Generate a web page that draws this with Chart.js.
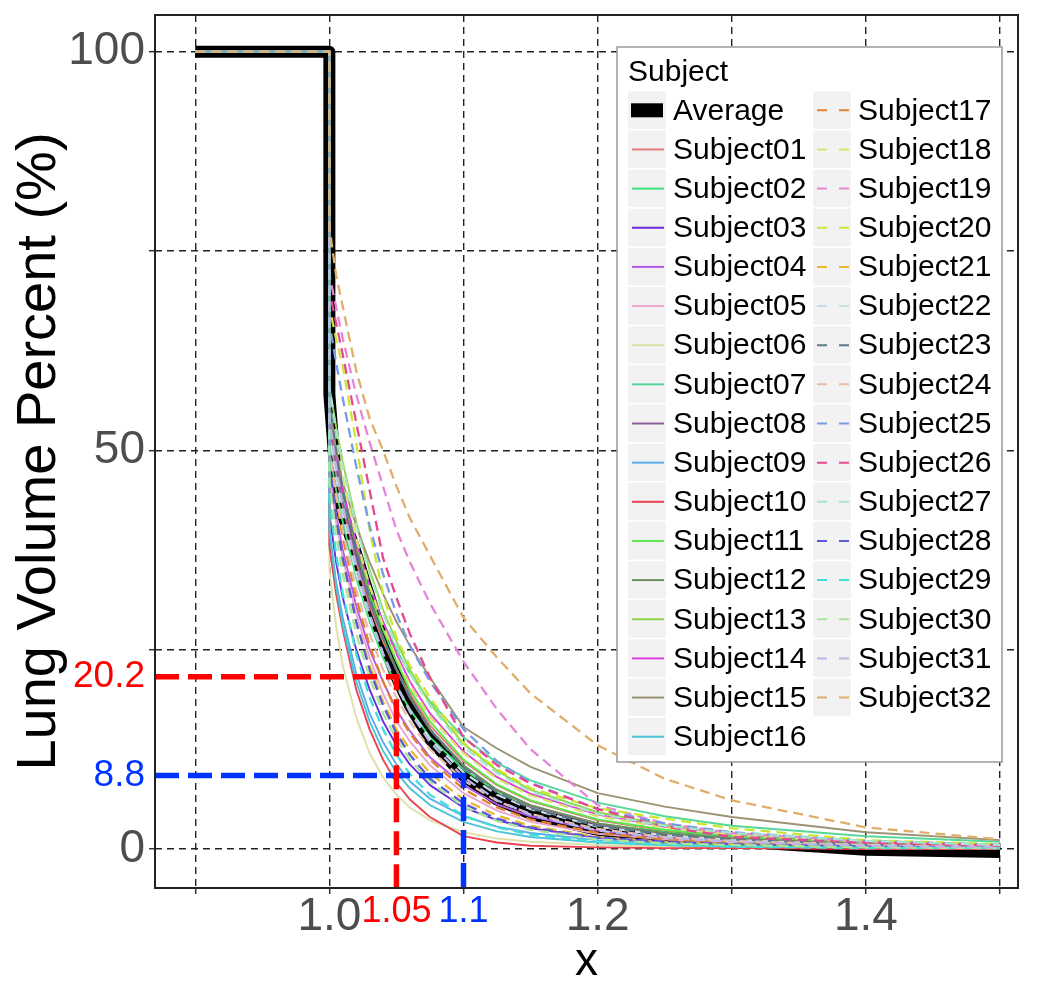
<!DOCTYPE html>
<html lang="en">
<head>
<meta charset="UTF-8">
<title>Lung Volume Percent</title>
<script src="https://cdn.jsdelivr.net/npm/chart.js@4"></script>
<style>
  html, body { margin: 0; padding: 0; background: #fff; }
  #wrap { width: 1050px; height: 986px; }
</style>
</head>
<body>
<div id="wrap"><canvas id="lungChart" width="1050" height="986"></canvas></div>
<script>
// sample positions after the drop at x = 1
const xValues = [1.0, 1.005, 1.01, 1.02, 1.03, 1.04, 1.05, 1.06, 1.075, 1.1, 1.125, 1.15, 1.2, 1.25, 1.3, 1.4, 1.5];
// plateau before the drop
const stepX = [0.9, 1.0];
const stepY = [100, 100];

const average = [57, 46, 42, 37, 31.5, 26, 21.6, 18, 13.8, 9.2, 6.2, 4.4, 2.4, 1.5, 1.0, -0.1, -0.4];

const s01 = [52, 47, 43, 36, 30.5, 26, 22.5, 19.5, 15.5, 11, 8, 6, 3.6, 2.3, 1.6, 0.8, 0.4];
const s02 = [50, 45, 41, 34, 28.5, 24, 20.5, 17.5, 14, 10, 7.2, 5.4, 3.2, 2.1, 1.4, 0.7, 0.4];
const s03 = [42, 36, 31.5, 25, 20, 16, 13, 10.6, 8, 5.2, 3.6, 2.6, 1.4, 0.9, 0.6, 0.3, 0.2];
const s04 = [48, 42, 37.5, 30.5, 25, 21, 17.5, 14.8, 11.5, 8, 5.6, 4.1, 2.3, 1.4, 0.9, 0.4, 0.2];
const s05 = [47, 41, 36.5, 29.5, 24, 19.5, 16, 13.5, 10.5, 7, 4.8, 3.4, 1.9, 1.2, 0.8, 0.4, 0.2];
const s06 = [35, 28, 23, 16.5, 12, 9, 6.8, 5.2, 3.6, 2.1, 1.3, 0.9, 0.5, 0.3, 0.2, 0.1, 0.1];
const s07 = [52, 47.5, 44, 38, 33, 28.5, 25, 22, 18.5, 14, 10.8, 8.6, 5.8, 4.1, 2.9, 1.6, 0.9];
const s08 = [54, 48, 43.5, 36.5, 31, 26.5, 22.5, 19, 15, 10.4, 7.4, 5.4, 3.1, 1.9, 1.3, 0.6, 0.3];
const s09 = [40, 33.5, 29, 22, 17, 13.4, 10.6, 8.5, 6.3, 4.1, 2.8, 2.0, 1.1, 0.7, 0.5, 0.3, 0.2];
const s10 = [38, 32, 27.5, 20, 15, 11.2, 8.3, 6.2, 4.0, 1.6, 0.8, 0.4, 0.2, 0.1, 0.1, 0.0, 0.0];
const s11 = [55, 49.5, 45, 38, 32, 27.5, 23.5, 20, 16, 11.2, 8.1, 6.1, 3.7, 2.4, 1.6, 0.8, 0.4];
const s12 = [56, 50, 45, 37.5, 31.5, 26.5, 22.5, 19, 15, 10.5, 7.4, 5.5, 3.2, 2.0, 1.3, 0.6, 0.3];
const s13 = [58, 53, 48.5, 41, 35, 30, 26, 22.5, 18.2, 13.2, 9.8, 7.4, 4.6, 3.0, 2.0, 1.0, 0.5];
const s14 = [54, 49, 45, 38.5, 33, 28.5, 24.5, 21, 17, 12.2, 9, 6.9, 4.3, 2.8, 1.9, 0.9, 0.5];
const s15 = [55, 50, 46, 40.5, 36, 32, 28.5, 25.5, 21.5, 15.3, 12.6, 10.3, 7.0, 5.3, 4.0, 2.1, 1.1];
const s16 = [40, 33, 28, 21, 16, 12.3, 9.6, 7.6, 5.5, 3.4, 2.2, 1.5, 0.8, 0.5, 0.3, 0.2, 0.1];
const s17 = [50, 44, 39, 31.5, 25.5, 21, 17.3, 14.5, 11.2, 7.5, 5.2, 3.7, 2.0, 1.2, 0.8, 0.4, 0.2];
const s18 = [56, 51, 46.5, 39, 33, 28, 24, 20.6, 16.6, 12, 8.8, 6.7, 4.1, 2.7, 1.8, 0.9, 0.5];
const s19 = [72, 68, 64, 57, 51, 45.5, 40, 36, 30.8, 23.5, 17.5, 12.5, 5.5, 3.2, 2.0, 1.0, 0.5];
const s20 = [68, 64, 60.5, 51, 40, 32, 26.5, 23, 19, 13.3, 10, 7.6, 5.1, 3.8, 2.6, 1.1, 0.6];
const s21 = [47, 41, 36, 28.5, 23, 18.5, 15, 12.5, 9.5, 6.2, 4.2, 2.9, 1.5, 0.9, 0.6, 0.3, 0.1];
const s22 = [52, 46.5, 42, 34.5, 29, 24.5, 20.5, 17.4, 13.8, 9.6, 6.8, 5, 2.8, 1.7, 1.1, 0.5, 0.3];
const s23 = [56, 50, 45, 37.5, 31.5, 26.5, 22.5, 19, 15, 10.2, 7.1, 5.1, 2.9, 1.8, 1.2, 0.5, 0.3];
const s24 = [50, 44.5, 40, 32.5, 27, 22.5, 19, 16, 12.5, 8.6, 6.0, 4.4, 2.5, 1.5, 1.0, 0.5, 0.2];
const s25 = [66, 61, 56.5, 48, 40.5, 34.5, 29.5, 25.5, 21, 15, 11, 8.3, 5, 3.2, 2.1, 1.0, 0.5];
const s26 = [70, 66, 62, 53.5, 45, 36.5, 31.5, 27, 21.5, 14, 10.5, 8.2, 5, 2.8, 1.5, 0.8, 0.4];
const s27 = [58, 52.5, 48, 40.5, 34.5, 29.5, 25.5, 22, 18, 12.8, 9.5, 7.2, 4.4, 2.9, 2.0, 1.0, 0.5];
const s28 = [48, 41.5, 36.5, 28.5, 22.5, 18, 14.5, 11.8, 8.8, 5.7, 3.8, 2.7, 1.4, 0.9, 0.6, 0.3, 0.1];
const s29 = [44, 37, 32, 24.5, 19, 15, 11.8, 9.4, 6.8, 4.2, 2.7, 1.8, 0.9, 0.5, 0.3, 0.1, 0.1];
const s30 = [46, 39.5, 34.5, 27, 21.5, 17, 13.8, 11.2, 8.4, 5.3, 3.5, 2.4, 1.2, 0.7, 0.5, 0.2, 0.1];
const s31 = [54, 48, 43, 35.5, 29.5, 24.5, 20.5, 17.2, 13.4, 9, 6.1, 4.3, 2.3, 1.4, 0.9, 0.4, 0.2];
const s32 = [78, 72, 68, 60, 54, 50, 45.5, 41.5, 36.8, 29, 24, 19.5, 13, 8.8, 6.1, 2.7, 1.2];

const subjectSeries = [s01, s02, s03, s04, s05, s06, s07, s08, s09, s10, s11, s12, s13, s14, s15, s16,
                       s17, s18, s19, s20, s21, s22, s23, s24, s25, s26, s27, s28, s29, s30, s31, s32];
const subjectNames = subjectSeries.map((_, i) => 'Subject' + String(i + 1).padStart(2, '0'));
const subjectColors = [
  '#E07A7C', '#3FE07A', '#6A2BE0', '#B35AE8', '#EAA6CF', '#DDE0A8', '#55D89A', '#8E5E9C',
  '#5AAEE8', '#E8434E', '#5BE84A', '#6F8F5A', '#8DD64A', '#DD3FDB', '#9B9373', '#4CC3D6',
  '#E0822F', '#D9E36A', '#E685D8', '#C9E830', '#E8B830', '#C9DDE6', '#5C7A8A', '#E8BCA8',
  '#7A9AE6', '#E64790', '#A8E6CC', '#5A5AD6', '#3FE0DA', '#A8E69A', '#B8B8E6', '#E0AE6A'
];

// marker lines (red at x = 1.05, blue at x = 1.1)
const refX = [1.05, 1.1];
const refXLabels = ['1.05', '1.1'];
const refY = [21.6, 9.2];
const refYLabels = ['20.2', '8.8'];
const refColors = ['#FF0000', '#0033FF'];

// axes
const xMin = 0.87, xMax = 1.5134;
const yMin = -4.9, yMax = 104.6;
const xTickValues = [0.9, 1.0, 1.1, 1.2, 1.3, 1.4, 1.5];
const xTickLabels = ['', '1.0', '1.1', '1.2', '', '1.4', ''];
const yTickValues = [0, 25, 50, 75, 100];
const yTickLabels = ['0', '', '50', '', '100'];

const FONT = '"Liberation Sans", Arial, Helvetica, sans-serif';
const GREY = '#4D4D4D';
const NONE = 'rgba(0,0,0,0)';

function toPoints(vals) {
  const head = stepX.map((x, i) => ({ x: x, y: stepY[i] }));
  return head.concat(xValues.map((x, i) => ({ x: x, y: vals[i] })));
}

const datasets = [];
datasets.push({
  label: 'Average', data: toPoints(average),
  borderColor: '#000000', borderWidth: 12, borderDash: [], order: 100
});
subjectSeries.forEach((vals, i) => {
  const dashed = i >= 16;
  datasets.push({
    label: subjectNames[i], data: toPoints(vals),
    borderColor: subjectColors[i],
    borderWidth: dashed ? 2.3 : 1.9,
    borderDash: dashed ? [10, 6] : [],
    order: 60 - i
  });
});
refX.forEach((x, i) => {
  datasets.push({
    label: 'ref' + i,
    data: [{ x: xMin, y: refY[i] }, { x: x, y: refY[i] }, { x: x, y: yMin }],
    borderColor: refColors[i], borderWidth: 5.5, borderDash: [24, 9], order: -1,
    borderJoinStyle: 'miter'
  });
});

const allXTicks = Array.from(new Set(xTickValues.concat(refX))).sort((a, b) => a - b);
const allYTicks = Array.from(new Set(yTickValues.concat(refY))).sort((a, b) => a - b);

function xInfo(c) {
  const v = c && c.tick ? c.tick.value : null;
  const r = refX.indexOf(v);
  if (r >= 0) return { label: refXLabels[r], color: refColors[r], size: 36, grid: xTickValues.includes(v) };
  const k = xTickValues.indexOf(v);
  return { label: k >= 0 ? xTickLabels[k] : '', color: GREY, size: 46, grid: true };
}
function yInfo(c) {
  const v = c && c.tick ? c.tick.value : null;
  const r = refY.indexOf(v);
  if (r >= 0) return { label: refYLabels[r], color: refColors[r], size: 37, grid: yTickValues.includes(v) };
  const k = yTickValues.indexOf(v);
  return { label: k >= 0 ? yTickLabels[k] : '', color: GREY, size: 46, grid: true };
}

const framePlugin = {
  id: 'panelFrame',
  afterDatasetsDraw(chart) {
    const { ctx, chartArea: a } = chart;
    ctx.save();
    ctx.strokeStyle = '#222';
    ctx.lineWidth = 2;
    ctx.strokeRect(a.left, a.top, a.right - a.left, a.bottom - a.top);
    ctx.restore();
  }
};

const legendPlugin = {
  id: 'subjectLegend',
  afterDraw(chart) {
    const ctx = chart.ctx;
    const ds = chart.data.datasets;
    ctx.save();
    ctx.fillStyle = '#fff';
    ctx.fillRect(617, 47, 385, 715);
    ctx.strokeStyle = '#9a9a9a';
    ctx.lineWidth = 1.5;
    ctx.strokeRect(617, 47, 385, 715);
    ctx.font = '30px ' + FONT;
    ctx.textBaseline = 'middle';
    ctx.textAlign = 'left';
    ctx.fillStyle = '#000';
    ctx.fillText('Subject', 628, 73);
    for (let k = 0; k <= 32; k++) {
      const col = k < 17 ? 0 : 1;
      const row = k < 17 ? k : k - 17;
      const cy = 110.3 + row * 39.15;
      const bx = col ? 813 : 628;
      ctx.fillStyle = '#F2F2F2';
      ctx.fillRect(bx, cy - 19, 38, 37.5);
      const d = ds[k];
      if (k === 0) {
        ctx.fillStyle = '#000';
        ctx.fillRect(bx + 3, cy - 7, 32, 14);
      } else {
        ctx.strokeStyle = d.borderColor;
        ctx.lineWidth = 2;
        ctx.setLineDash(d.borderDash.length ? [10, 12] : []);
        ctx.beginPath();
        ctx.moveTo(bx + 4, cy);
        ctx.lineTo(bx + 36, cy);
        ctx.stroke();
        ctx.setLineDash([]);
      }
      ctx.fillStyle = '#000';
      ctx.fillText(d.label, bx + 45, cy + 1);
    }
    ctx.restore();
  }
};

const ctx = document.getElementById('lungChart').getContext('2d');
const lungChart = new Chart(ctx, {
  type: 'line',
  data: { datasets: datasets },
  options: {
    responsive: false,
    animation: false,
    devicePixelRatio: 1,
    layout: { padding: { left: 0, right: 32, top: 15, bottom: 0 } },
    elements: {
      point: { radius: 0 },
      line: { tension: 0, borderCapStyle: 'butt', borderJoinStyle: 'round', fill: false }
    },
    plugins: { legend: { display: false }, tooltip: { enabled: false } },
    scales: {
      x: {
        type: 'linear', min: xMin, max: xMax,
        afterBuildTicks: s => { s.ticks = allXTicks.map(v => ({ value: v })); },
        afterFit: s => { s.height = 98; s.paddingLeft = 0; s.paddingRight = 0; },
        border: { display: false, dash: [7, 5] },
        grid: {
          color: c => xInfo(c).grid ? '#222' : NONE,
          lineWidth: 1.4,
          tickLength: 6, tickWidth: 1.5, tickBorderDash: [],
          tickColor: c => xInfo(c).grid ? '#333' : NONE
        },
        ticks: {
          autoSkip: false, maxRotation: 0, minRotation: 0, padding: -4,
          callback: (v, i) => xInfo({ tick: { value: allXTicks[i] } }).label,
          color: c => xInfo(c).color,
          font: c => ({ family: FONT, size: xInfo(c).size })
        },
        title: {
          display: true, text: 'x', color: '#000',
          font: { family: FONT, size: 46, lineHeight: 1 },
          padding: { top: 0, bottom: 1 }
        }
      },
      y: {
        type: 'linear', min: yMin, max: yMax,
        afterBuildTicks: s => { s.ticks = allYTicks.map(v => ({ value: v })); },
        afterFit: s => { s.width = 155; s.paddingTop = 0; s.paddingBottom = 0; },
        border: { display: false, dash: [7, 5] },
        grid: {
          color: c => yInfo(c).grid ? '#222' : NONE,
          lineWidth: 1.4,
          tickLength: 6, tickWidth: 1.5, tickBorderDash: [],
          tickColor: c => yInfo(c).grid ? '#333' : NONE
        },
        ticks: {
          autoSkip: false, padding: 4,
          callback: (v, i) => yInfo({ tick: { value: allYTicks[i] } }).label,
          color: c => yInfo(c).color,
          font: c => ({ family: FONT, size: yInfo(c).size })
        },
        title: {
          display: true, text: 'Lung Volume Percent (%)', color: '#000',
          font: { family: FONT, size: 56, lineHeight: 1.1 },
          padding: { top: 9, bottom: 0 }
        }
      }
    }
  },
  plugins: [framePlugin, legendPlugin]
});
</script>
</body>
</html>
